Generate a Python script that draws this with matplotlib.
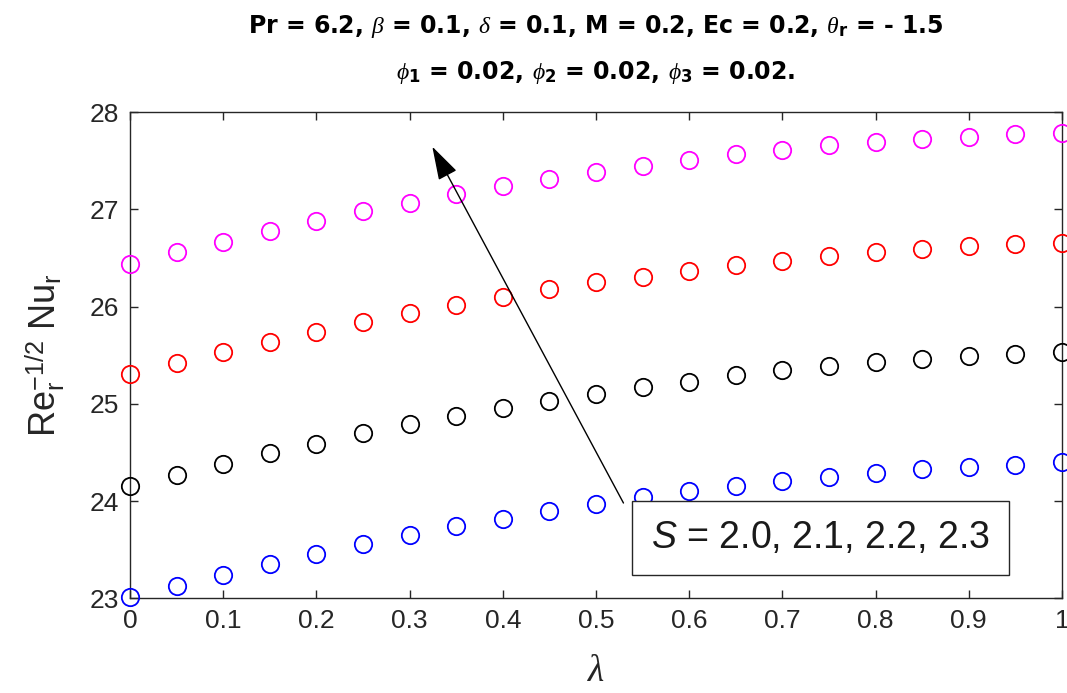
import numpy as np
import matplotlib
matplotlib.use("Agg")
from matplotlib import pyplot as plt

plt.rcParams.update({
    "font.family": ["Liberation Sans", "DejaVu Sans"],
    "mathtext.fontset": "custom",
    "mathtext.rm": "Liberation Sans",
    "mathtext.it": "Liberation Serif:italic",
    "mathtext.bf": "DejaVu Sans:bold",
    "mathtext.sf": "Liberation Sans:italic",
})

# lambda sweep and the Nusselt number for each value of S
lam = [0.0, 0.05, 0.1, 0.15, 0.2, 0.25, 0.3, 0.35, 0.4, 0.45, 0.5,
       0.55, 0.6, 0.65, 0.7, 0.75, 0.8, 0.85, 0.9, 0.95, 1.0]
nu_s20 = [23.01, 23.13, 23.24, 23.35, 23.46, 23.56, 23.65, 23.74, 23.82, 23.90, 23.97,
          24.04, 24.10, 24.16, 24.21, 24.25, 24.29, 24.33, 24.35, 24.37, 24.40]
nu_s21 = [24.15, 24.27, 24.38, 24.49, 24.59, 24.70, 24.79, 24.88, 24.96, 25.03, 25.10,
          25.17, 25.23, 25.30, 25.35, 25.39, 25.43, 25.46, 25.49, 25.51, 25.53]
nu_s22 = [25.31, 25.42, 25.53, 25.64, 25.74, 25.84, 25.93, 26.02, 26.10, 26.18, 26.25,
          26.31, 26.37, 26.43, 26.47, 26.52, 26.56, 26.59, 26.62, 26.64, 26.66]
nu_s23 = [26.44, 26.56, 26.67, 26.78, 26.88, 26.98, 27.07, 27.16, 27.24, 27.31, 27.39,
          27.45, 27.51, 27.57, 27.61, 27.66, 27.69, 27.73, 27.75, 27.78, 27.79]
series = [nu_s20, nu_s21, nu_s22, nu_s23]
colors = ["#0000ff", "#000000", "#ff0000", "#ff00ff"]

xticks = [0, 0.1, 0.2, 0.3, 0.4, 0.5, 0.6, 0.7, 0.8, 0.9, 1]
xticklabels = ["0", "0.1", "0.2", "0.3", "0.4", "0.5", "0.6", "0.7", "0.8", "0.9", "1"]
yticks = [23, 24, 25, 26, 27, 28]

axcol = "#262626"

fig = plt.figure(figsize=(10.67, 6.93), dpi=100)
ax = fig.add_axes([0.1218, 0.1367, 0.8735, 0.7013])

for ys, c in zip(series, colors):
    ax.plot(lam, ys, ls="none", marker="o", ms=12.5, mfc="none", mec=c,
            mew=1.3, clip_on=False, zorder=3)

ax.set_xlim(0, 1)
ax.set_ylim(23, 28)
ax.set_xticks(xticks)
ax.set_xticklabels(xticklabels)
ax.set_yticks(yticks)
ax.tick_params(direction="in", top=True, right=True, length=6, width=1,
               labelsize=19, colors=axcol, pad=8)
for sp in ax.spines.values():
    sp.set_color(axcol)
    sp.set_linewidth(1)

ax.set_xlabel(r"$\lambda$", fontsize=27, color=axcol, labelpad=14)
ax.set_ylabel(r"Re$_\mathrm{r}^{-1/2}$ Nu$_\mathrm{r}$", fontsize=26,
              color=axcol, labelpad=16)

# parameter lines above the axes
title_kw = dict(ha="center", va="baseline", fontsize=17, fontweight="bold",
                family="DejaVu Sans")
fig.text(0.5585, 0.952,
         r"Pr = 6.2, $\beta$ = 0.1, $\delta$ = 0.1, M = 0.2, Ec = 0.2, "
         r"$\theta_\mathbf{r}$ = - 1.5", **title_kw)
fig.text(0.5585, 0.886,
         r"$\phi_\mathbf{1}$ = 0.02, $\phi_\mathbf{2}$ = 0.02, "
         r"$\phi_\mathbf{3}$ = 0.02.", **title_kw)

# arrow showing increasing S
ax.annotate("", xy=(0.3244, 27.646), xytext=(0.5295, 23.98),
            arrowprops=dict(arrowstyle="-|>,head_length=1.05,head_width=0.32",
                            color="k", lw=1, mutation_scale=20,
                            shrinkA=0, shrinkB=0))
ax.text(0.741, 23.62, r"$\mathsf{S}$ = 2.0, 2.1, 2.2, 2.3", fontsize=27,
        color="#1a1a1a", ha="center", va="center", zorder=4,
        bbox=dict(boxstyle="square,pad=0.5", fc="white", ec=axcol, lw=1))

fig.savefig("out.png", dpi=100)
